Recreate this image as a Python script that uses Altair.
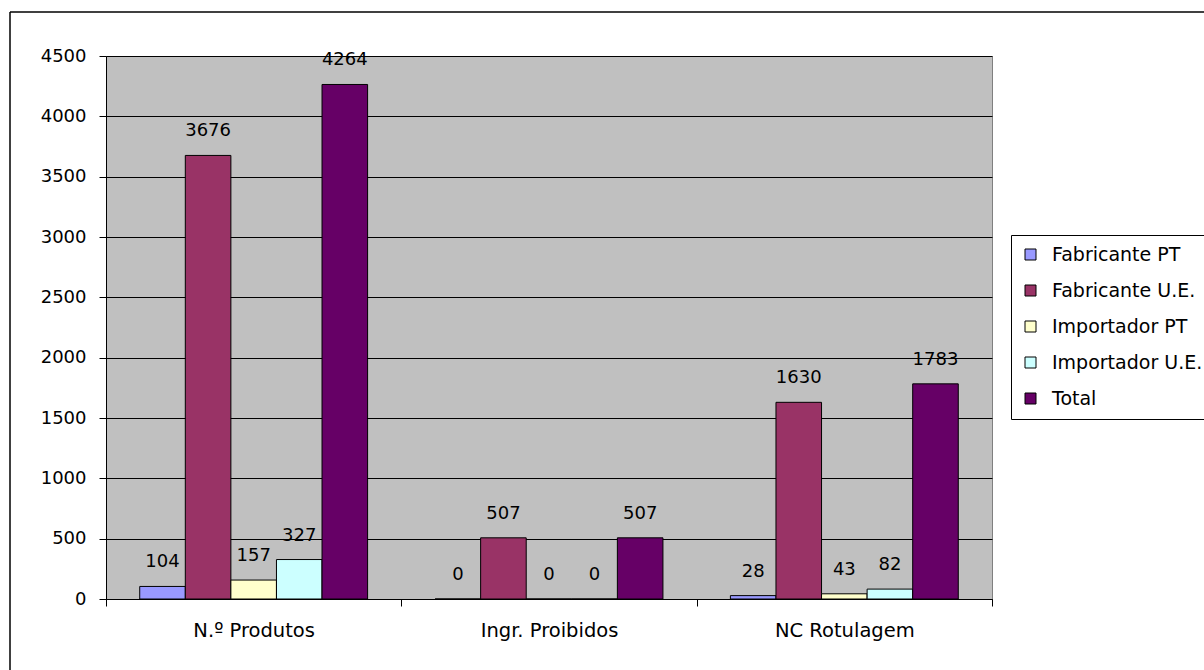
import altair as alt
import pandas as pd

categories = ["N.º Produtos", "Ingr. Proibidos", "NC Rotulagem"]
series = ["Fabricante PT", "Fabricante U.E.", "Importador PT", "Importador U.E.", "Total"]
colors = ["#9999FF", "#993366", "#FFFFCC", "#CCFFFF", "#660066"]
values = {
    "Fabricante PT": [104, 0, 28],
    "Fabricante U.E.": [3676, 507, 1630],
    "Importador PT": [157, 0, 43],
    "Importador U.E.": [327, 0, 82],
    "Total": [4264, 507, 1783],
}
y_ticks = list(range(0, 4501, 500))

rows = []
for s in series:
    for c, v in zip(categories, values[s]):
        rows.append({"cat": c, "serie": s, "valor": v})
df = pd.DataFrame(rows)

FONT = "DejaVu Sans"
W, H = 886, 543
LEFT, TOP = 106, 56

x_enc = alt.X("cat:N", sort=categories,
              scale=alt.Scale(paddingInner=0, paddingOuter=0),
              axis=alt.Axis(title=None, labelAngle=0, tickBand="extent", tickSize=7,
                            tickColor="black", domainColor="black", labelPadding=15,
                            labelFontSize=19.5, labelFont=FONT, labelColor="black"))
xoff_enc = alt.XOffset("serie:N", sort=series,
                       scale=alt.Scale(paddingInner=0, paddingOuter=0.74))
y_enc = alt.Y("valor:Q", scale=alt.Scale(domain=[0, 4500], nice=False),
              axis=alt.Axis(title=None, values=y_ticks, format="d", grid=True,
                            gridColor="black", gridOpacity=1, tickSize=7, tickColor="black",
                            domainColor="black", labelPadding=13, labelFontSize=18,
                            labelFont=FONT, labelColor="black"))

bars = alt.Chart(df).mark_bar(stroke="black", strokeWidth=1).encode(
    x=x_enc, xOffset=xoff_enc, y=y_enc,
    color=alt.Color("serie:N", sort=series,
                    scale=alt.Scale(domain=series, range=colors),
                    legend=alt.Legend(title=None, orient="none", legendX=905, legendY=179,
                                      symbolType="square", symbolSize=121,
                                      symbolStrokeColor="black", symbolStrokeWidth=1,
                                      labelFontSize=19, labelFont=FONT, labelColor="black",
                                      rowPadding=16, padding=10, strokeColor="black",
                                      fillColor="white", labelLimit=300,
                                      labelOffset=12, symbolOffset=0)),
)

labels = alt.Chart(df).mark_text(baseline="middle", dy=-24, fontSize=18, font=FONT,
                                 color="black").encode(
    x=alt.X("cat:N", sort=categories), xOffset=alt.XOffset("serie:N", sort=series),
    y="valor:Q", text="valor:Q",
)

border = alt.Chart(alt.Data(values=[{}])).mark_rule(color="black", strokeWidth=1.5).encode(
    x=alt.value(10 - LEFT), x2=alt.value(1204 - LEFT), y=alt.value(12 - TOP), y2=alt.value(12 - TOP)
)
border2 = alt.Chart(alt.Data(values=[{}])).mark_rule(color="black", strokeWidth=1.5).encode(
    x=alt.value(10 - LEFT), x2=alt.value(10 - LEFT), y=alt.value(12 - TOP), y2=alt.value(670 - TOP)
)

chart = alt.layer(bars, labels, border, border2).properties(
    width=W, height=H,
    autosize=alt.AutoSizeParams(type="none"),
    padding={"left": LEFT, "top": TOP, "right": 1204 - LEFT - W, "bottom": 670 - TOP - H},
    background="white",
).configure_view(fill="#C0C0C0", stroke="#808080", strokeWidth=1)

chart.save("out.html", embed_options={"renderer": "svg", "actions": False})
